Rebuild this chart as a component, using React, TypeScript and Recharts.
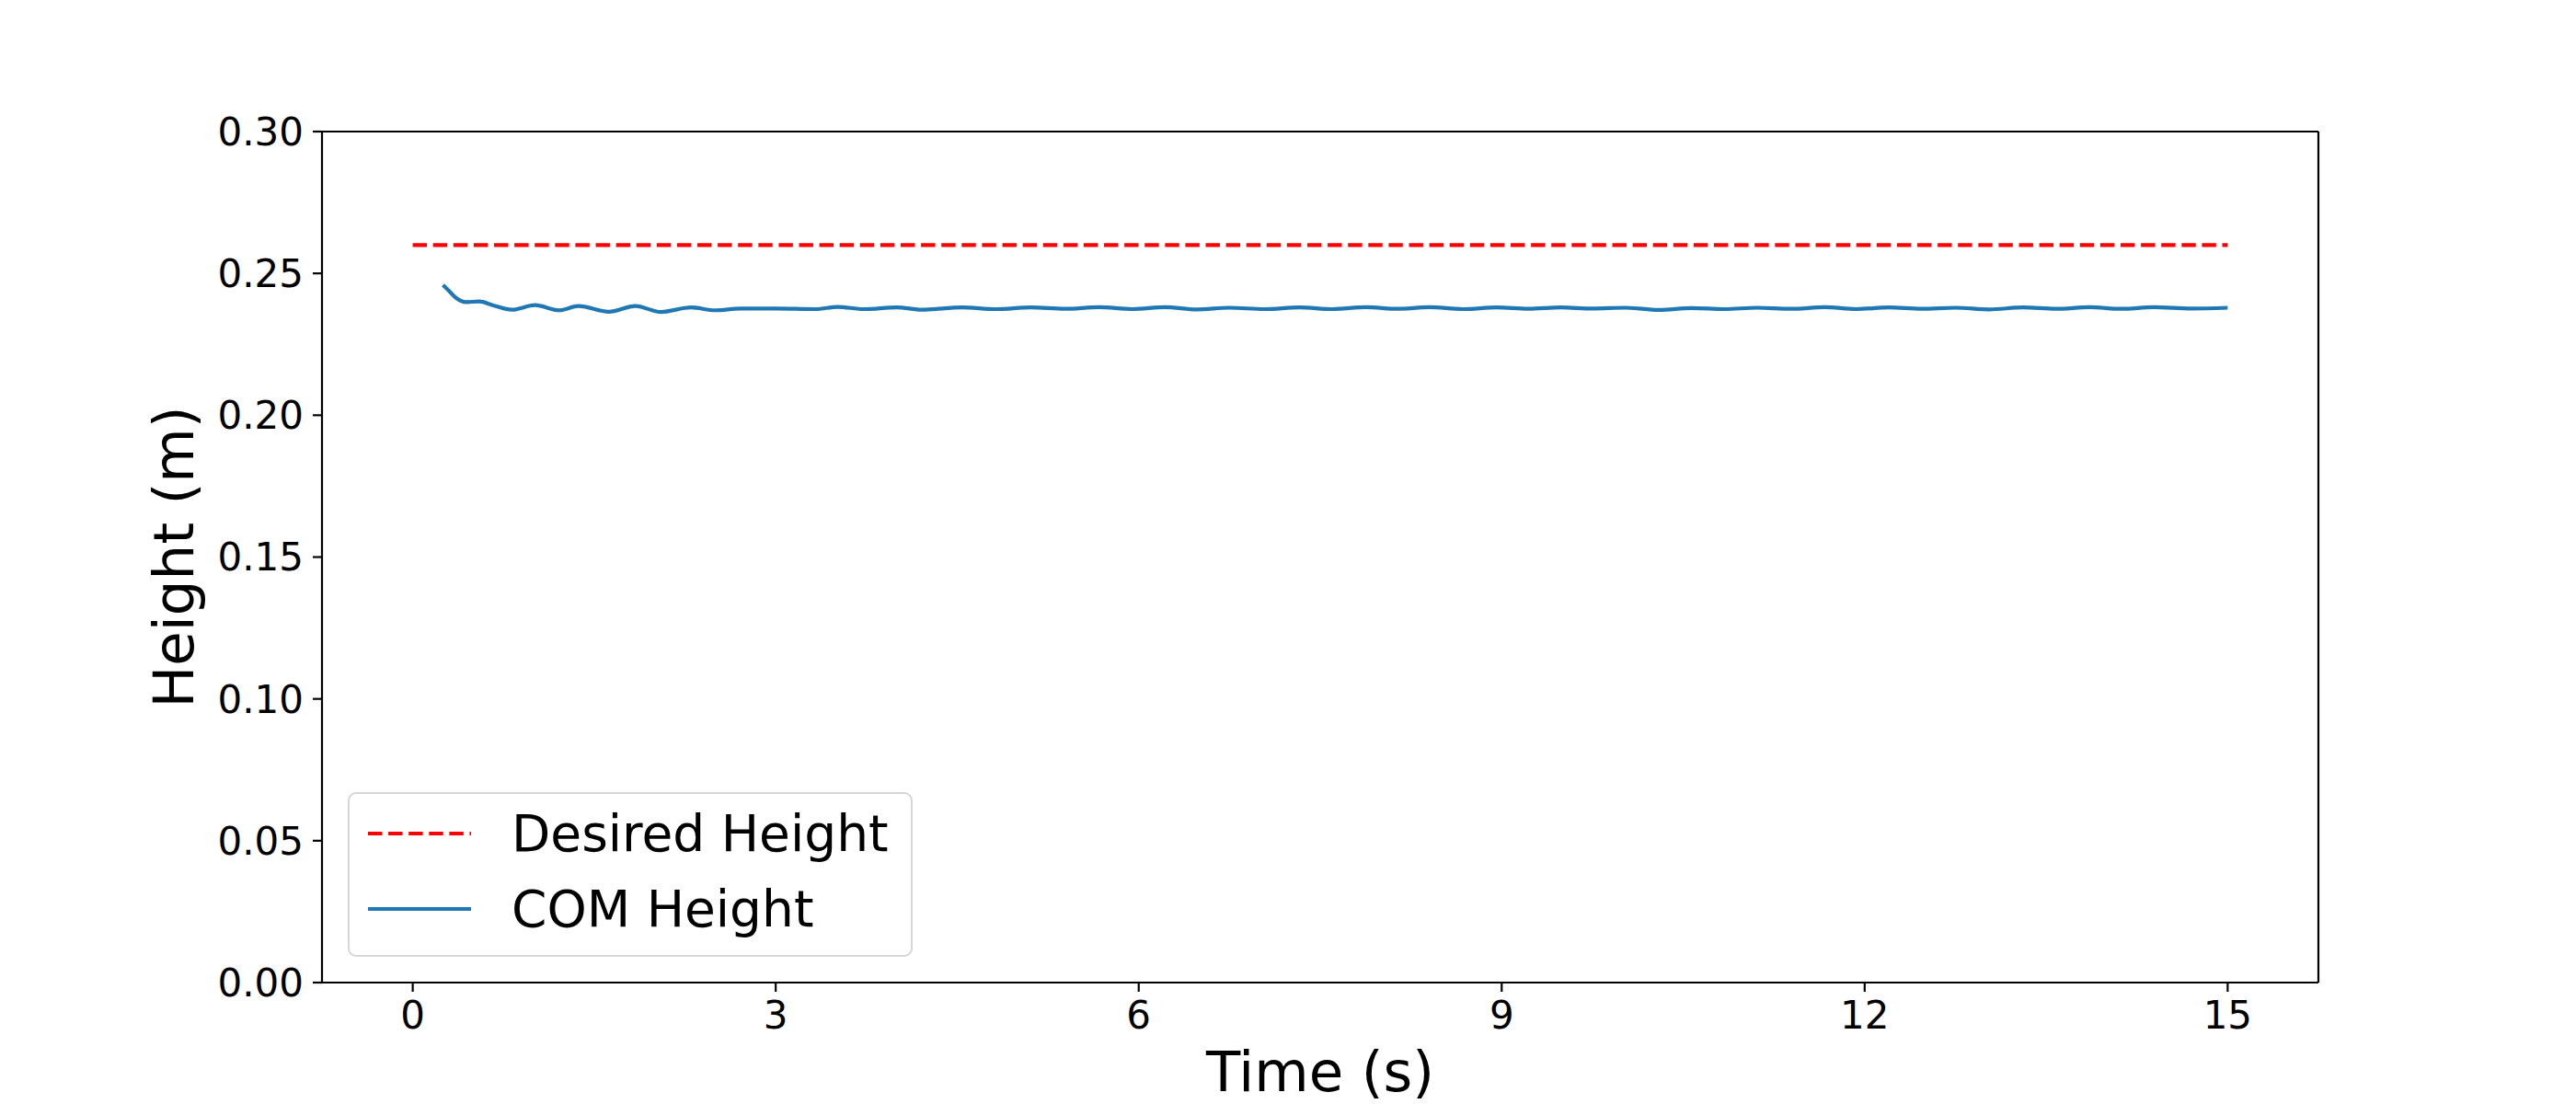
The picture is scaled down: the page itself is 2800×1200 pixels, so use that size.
import React from "react";
import {
  LineChart,
  Line,
  XAxis,
  YAxis,
  Legend,
  ReferenceLine,
} from "recharts";

// values
const desiredTime = [0, 15];
const desiredHeight = [0.26, 0.26];

const comTime = [
  0.25, 0.3, 0.36, 0.44, 0.55, 0.66, 0.82, 1.01, 1.21, 1.37,
  1.62, 1.84, 2.05, 2.3, 2.5, 2.71, 3.0, 3.33, 3.51, 3.73,
  4.0, 4.21, 4.54, 4.82, 5.11, 5.39, 5.67, 5.95, 6.22, 6.48,
  6.75, 7.04, 7.33, 7.6, 7.88, 8.14, 8.4, 8.68, 8.96, 9.22,
  9.49, 9.75, 10.02, 10.3, 10.57, 10.84, 11.11, 11.39, 11.67, 11.93,
  12.2, 12.47, 12.75, 13.03, 13.31, 13.58, 13.86, 14.12, 14.39, 14.7,
  15.0,
];
const comHeight = [
  0.2459, 0.2438, 0.2413, 0.2399, 0.2401, 0.2388, 0.2372, 0.2388, 0.237, 0.2385,
  0.2365, 0.2385, 0.2364, 0.238, 0.237, 0.2376, 0.2376, 0.2374, 0.2382, 0.2374,
  0.238, 0.2372, 0.238, 0.2374, 0.238, 0.2375, 0.2381, 0.2374, 0.2381, 0.2373,
  0.2379, 0.2374, 0.238, 0.2374, 0.2381, 0.2375, 0.2381, 0.2374, 0.238, 0.2375,
  0.238, 0.2376, 0.2379, 0.2371, 0.2378, 0.2374, 0.2379, 0.2375, 0.2381, 0.2374,
  0.238, 0.2375, 0.2379, 0.2373, 0.238, 0.2375, 0.2381, 0.2375, 0.2381, 0.2376,
  0.2379,
];

const xTicks = [0, 3, 6, 9, 12, 15];
const yTicks = [0, 0.05, 0.1, 0.15, 0.2, 0.25, 0.3];
const xDomain = [-0.75, 15.75];
const yDomain = [0, 0.3];

const FONT = "'DejaVu Sans', sans-serif";
const RED = "#ff0000";
const BLUE = "#1f77b4";
const AXIS_W = 2.2;

const desiredData = desiredTime.map((t, i) => ({ t, h: desiredHeight[i] }));
const comData = comTime.map((t, i) => ({ t, h: comHeight[i] }));

function LegendBox() {
  const rows = [
    { label: "Desired Height", color: RED, dash: "15.4 6.7" },
    { label: "COM Height", color: BLUE, dash: undefined },
  ];
  return (
    <div
      style={{
        width: 614,
        height: 179,
        boxSizing: "border-box",
        border: "2.2px solid #d6d6d6",
        borderRadius: 9,
        background: "rgba(255,255,255,0.8)",
        fontFamily: FONT,
        fontSize: 55,
        color: "#000",
        paddingTop: 2,
      }}
    >
      {rows.map((r) => (
        <div key={r.label} style={{ display: "flex", alignItems: "center", height: 82 }}>
          <svg width={176} height={20} style={{ flex: "none" }}>
            <line x1={20} x2={132} y1={10} y2={10} stroke={r.color} strokeWidth={4.2} strokeDasharray={r.dash} />
          </svg>
          <span style={{ lineHeight: 1, whiteSpace: "nowrap" }}>{r.label}</span>
        </div>
      ))}
    </div>
  );
}

export default function App() {
  return (
    <div style={{ position: "absolute", left: 0, top: 0, width: 2800, height: 1200, background: "#fff" }}>
      <LineChart width={2800} height={1200} margin={{ top: 143, right: 280, bottom: 0, left: 0 }}>
        <XAxis
          type="number"
          dataKey="t"
          domain={xDomain}
          ticks={xTicks}
          allowDataOverflow
          height={132}
          stroke="#000"
          strokeWidth={AXIS_W}
          tickSize={10}
          tickMargin={10}
          tick={{ fill: "#000", fontSize: 42, fontFamily: FONT }}
          label={(props: any) => {
            const vb = props.viewBox;
            return (
              <text x={vb.x + vb.width / 2} y={vb.y + 118} textAnchor="middle" fontFamily={FONT} fontSize={61} fill="#000">
                Time (s)
              </text>
            );
          }}
        />
        <YAxis
          type="number"
          domain={yDomain}
          ticks={yTicks}
          width={350}
          stroke="#000"
          strokeWidth={AXIS_W}
          tickSize={10}
          tickMargin={10}
          tickFormatter={(v: number) => v.toFixed(2)}
          tick={{ fill: "#000", fontSize: 42, fontFamily: FONT }}
          label={(props: any) => {
            const vb = props.viewBox;
            const cx = vb.x + 210;
            const cy = vb.y + vb.height / 2;
            return (
              <text x={cx} y={cy} transform={`rotate(-90 ${cx} ${cy})`} textAnchor="middle" fontFamily={FONT} fontSize={61} fill="#000">
                Height (m)
              </text>
            );
          }}
        />
        {/* top and right spines */}
        <ReferenceLine y={yDomain[1]} stroke="#000" strokeWidth={AXIS_W} ifOverflow="extendDomain" />
        <ReferenceLine x={xDomain[1]} stroke="#000" strokeWidth={AXIS_W} ifOverflow="extendDomain" />
        <Line
          data={desiredData}
          dataKey="h"
          name="Desired Height"
          type="linear"
          stroke={RED}
          strokeWidth={4.2}
          strokeDasharray="15.4 6.7"
          dot={false}
          isAnimationActive={false}
        />
        <Line
          data={comData}
          dataKey="h"
          name="COM Height"
          type="monotone"
          stroke={BLUE}
          strokeWidth={4.2}
          dot={false}
          isAnimationActive={false}
        />
        <Legend
          layout="vertical"
          align="center"
          verticalAlign="middle"
          wrapperStyle={{ left: 378, top: 861, width: 614 }}
          content={() => <LegendBox />}
        />
      </LineChart>
    </div>
  );
}
